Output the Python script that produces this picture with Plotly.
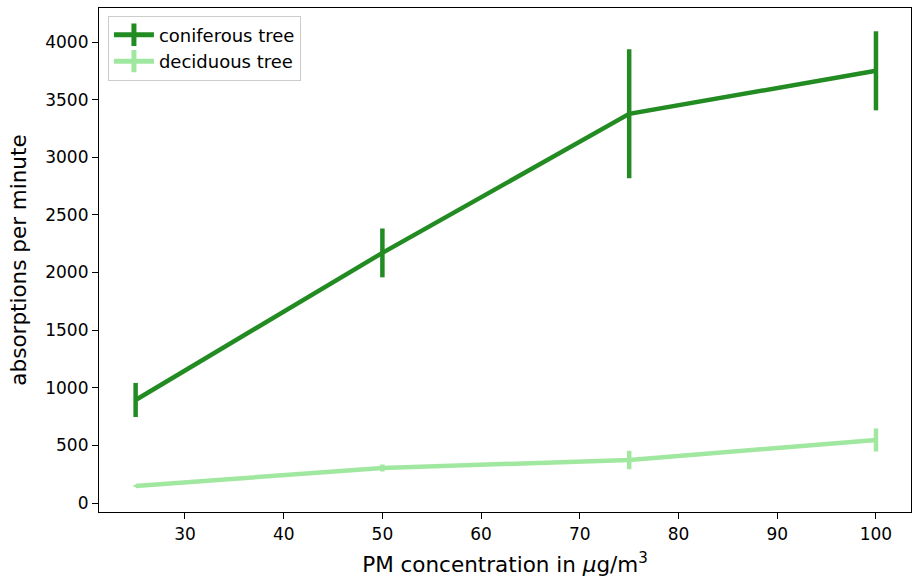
import plotly.graph_objects as go

pm = [25, 50, 75, 100]
coniferous = [894, 2170, 3377, 3750]
coniferous_err = [148, 212, 560, 343]
deciduous = [148, 304, 373, 547]
deciduous_err = [8, 30, 80, 100]
names = ["coniferous tree", "deciduous tree"]
colors = ["#228B22", "#A0E8A0"]
yticks = [0, 500, 1000, 1500, 2000, 2500, 3000, 3500, 4000]
xticks = [30, 40, 50, 60, 70, 80, 90, 100]

fig = go.Figure()
for vals, errs, name, col in [(coniferous, coniferous_err, names[0], colors[0]),
                              (deciduous, deciduous_err, names[1], colors[1])]:
    fig.add_trace(go.Scatter(
        x=pm, y=vals, mode="lines", name=name, showlegend=False,
        line=dict(color=col, width=4.5),
        error_y=dict(type="data", array=errs, visible=True, color=col, thickness=4.5, width=0),
    ))
    fig.add_trace(go.Scatter(
        x=[None], y=[None], mode="lines+markers", name=name,
        line=dict(color=col, width=5),
        marker=dict(symbol="line-ns", size=18, line=dict(color=col, width=5), color=col),
    ))

axis_common = dict(
    showline=True, linecolor="black", linewidth=1.2, mirror=True,
    ticks="outside", ticklen=6, tickwidth=1.2, tickcolor="black",
    showgrid=False, zeroline=False,
    tickfont=dict(family="DejaVu Sans", size=17, color="black"),
)

fig.update_layout(
    width=912, height=583,
    margin=dict(l=99, r=1, t=8, b=71),
    paper_bgcolor="white", plot_bgcolor="white",
    font=dict(family="DejaVu Sans", color="black"),
    xaxis=dict(range=[21.29, 103.55], tickvals=xticks,
               title=dict(text="PM concentration in <i>μ</i>g/m<sup>3</sup>",
                          font=dict(size=21.5), standoff=14),
               **axis_common),
    yaxis=dict(range=[-78, 4295], tickvals=yticks,
               title=dict(text="absorptions per minute", font=dict(size=21.5), standoff=12),
               **axis_common),
    legend=dict(x=0.011, y=0.985, xanchor="left", yanchor="top",
                bgcolor="rgba(255,255,255,0.8)", bordercolor="#cccccc", borderwidth=1,
                font=dict(family="DejaVu Sans", size=18), itemwidth=40,
                tracegroupgap=0),
)

fig.write_html("out.html")
